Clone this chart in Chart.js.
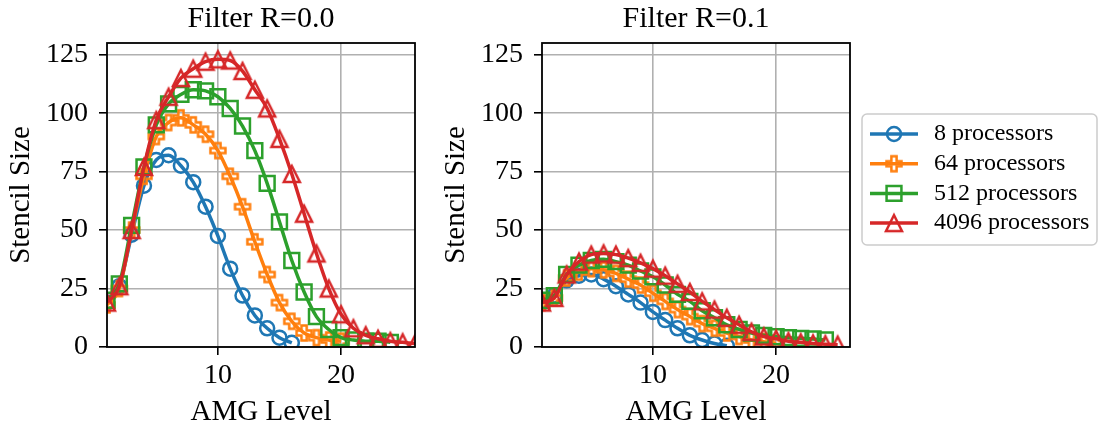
<!DOCTYPE html>
<html lang="en">
  <head>
    <meta charset="UTF-8" />
    <title>Stencil size per AMG level</title>
    <style>
      body {
        margin: 0;
        background: #fff;
      }
      .wrap {
        position: relative;
        width: 1098px;
        height: 425px;
      }
      canvas {
        position: absolute;
        top: 0;
      }
      #chartA {
        left: 0;
      }
      #chartB {
        left: 435px;
      }
    </style>
  </head>
  <body>
    <div class="wrap">
      <canvas id="chartA" width="480" height="425"></canvas>
      <canvas id="chartB" width="663" height="425"></canvas>
    </div>
    <script src="https://cdn.jsdelivr.net/npm/chart.js"></script>
    <script>
      // AMG levels (x) and tick labels
      const levels = [1, 2, 3, 4, 5, 6, 7, 8, 9, 10, 11, 12, 13, 14, 15, 16, 17, 18, 19, 20, 21, 22, 23, 24, 25, 26];
      const xTicks = [10, 20];
      const yTicks = [0, 25, 50, 75, 100, 125];
      const seriesNames = ["8 processors", "64 processors", "512 processors", "4096 processors"];

      // Filter R=0.0
      const r0_p8 = [19, 26, 48, 69, 80, 82, 77.5, 70.5, 60, 47.5, 33.5, 22, 13.5, 8, 4, 1.8];
      const r0_p64 = [18, 25, 50, 73, 90, 96, 98, 95, 91, 84, 73, 60, 45, 31, 19, 11, 6, 4, 3, 2.5];
      const r0_p512 = [20, 27, 52, 77, 95, 104, 108, 110, 109.5, 107, 102, 94.5, 84, 70, 53.5, 37, 23.5, 13, 7.5, 4, 3, 2.5, 2.5, 2];
      const r0_p4096 = [19, 26, 50, 77, 97, 107, 115, 119, 122, 123, 122.5, 118, 110, 102, 89, 74, 57, 40, 25, 14, 8, 5, 3.5, 2.5, 2, 1.5];

      // Filter R=0.1
      const r1_p8 = [19, 22, 28.5, 30.5, 31, 29, 26, 22.5, 19, 15, 11.5, 8, 5, 3, 1.5, 0.5];
      const r1_p64 = [19, 21, 29.5, 32, 33.5, 33, 31.5, 29, 26.5, 23, 19.5, 16, 13, 10, 8, 6, 4.5, 3, 2.3, 1.5];
      const r1_p512 = [20, 22, 31, 35, 37, 37.5, 36.5, 35, 32.5, 30, 26.5, 22.5, 19.5, 15.5, 12.5, 9.5, 7.5, 6, 5, 4.4, 4, 3.7, 3.4, 3];
      const r1_p4096 = [19, 21, 31, 36.5, 39.5, 40, 39.5, 38, 36, 33.5, 30.5, 27, 23.5, 19.5, 16, 12.5, 9.5, 6.5, 4.5, 3.5, 2.5, 2, 1.5, 1.2, 1];

      const colors = ["#1f77b4", "#ff7f0e", "#2ca02c", "#d62728"];
      const serif = "'Liberation Serif', 'Times New Roman', serif";

      // hollow marker images (plus and triangle like matplotlib "P" and "^")
      function makeMarker(color, path) {
        const c = document.createElement("canvas");
        c.width = 24;
        c.height = 24;
        const g = c.getContext("2d");
        g.translate(12, 12);
        g.strokeStyle = color;
        g.lineWidth = 2.5;
        g.beginPath();
        path(g);
        g.closePath();
        g.stroke();
        return c;
      }
      const plusPath = (g) => {
        const a = 2.6, l = 7.5;
        const pts = [[-a, -l], [a, -l], [a, -a], [l, -a], [l, a], [a, a], [a, l], [-a, l], [-a, a], [-l, a], [-l, -a], [-a, -a]];
        g.moveTo(pts[0][0], pts[0][1]);
        pts.slice(1).forEach((p) => g.lineTo(p[0], p[1]));
      };
      const triPath = (g) => {
        const s = 8;
        g.moveTo(0, -s);
        g.lineTo(s, s);
        g.lineTo(-s, s);
      };

      const markers = ["circle", makeMarker(colors[1], plusPath), "rect", makeMarker(colors[3], triPath)];
      const radii = [7, 7.5, 10.5, 8];

      function buildDatasets(series) {
        return series.map((vals, i) => ({
          label: seriesNames[i],
          data: vals.map((v, k) => ({ x: levels[k], y: v })),
          borderColor: colors[i],
          backgroundColor: "rgba(0,0,0,0)",
          borderWidth: 3.5,
          pointStyle: markers[i],
          pointRadius: radii[i],
          pointBorderWidth: 2.5,
          pointBorderColor: colors[i],
          pointBackgroundColor: "rgba(0,0,0,0)",
          cubicInterpolationMode: "monotone",
          clip: 0,
          order: 3 - i,
        }));
      }

      const framePlugin = {
        id: "frame",
        afterDatasetsDraw(chart) {
          const { ctx, chartArea: a } = chart;
          ctx.save();
          ctx.strokeStyle = "#000";
          ctx.lineWidth = 1.8;
          ctx.strokeRect(a.left, a.top, a.right - a.left, a.bottom - a.top);
          ctx.restore();
        },
      };

      const legendPlugin = {
        id: "sideLegend",
        afterDraw(chart) {
          const { ctx } = chart;
          const bx = 427, by = 114, bw = 235, bh = 131, r = 5;
          ctx.save();
          ctx.beginPath();
          ctx.roundRect(bx, by, bw, bh, r);
          ctx.fillStyle = "rgba(255,255,255,0.8)";
          ctx.fill();
          ctx.strokeStyle = "#cccccc";
          ctx.lineWidth = 1.5;
          ctx.stroke();
          ctx.font = "24px " + serif;
          ctx.textBaseline = "middle";
          ctx.textAlign = "left";
          chart.data.datasets.forEach((ds, i) => {
            const cy = 134 + i * 29.7;
            ctx.strokeStyle = ds.borderColor;
            ctx.lineWidth = 3.5;
            ctx.beginPath();
            ctx.moveTo(435, cy);
            ctx.lineTo(483, cy);
            ctx.stroke();
            ctx.lineWidth = 2.5;
            ctx.fillStyle = "rgba(0,0,0,0)";
            Chart.helpers.drawPoint(ctx, { pointStyle: ds.pointStyle, radius: ds.pointRadius, borderWidth: 2.5, rotation: 0 }, 459, cy);
            ctx.fillStyle = "#000";
            ctx.fillText(ds.label, 499, cy);
          });
          ctx.restore();
        },
      };

      function makeChart(id, titleText, series, padRight, withLegend) {
        const tickFont = { family: serif, size: 28, lineHeight: 1 };
        const labelFont = { family: serif, size: 29, lineHeight: 0.9 };
        return new Chart(document.getElementById(id), {
          type: "line",
          data: { datasets: buildDatasets(series) },
          options: {
            responsive: false,
            animation: false,
            events: [],
            layout: { padding: { left: 0, right: padRight, top: 0, bottom: 0 } },
            plugins: {
              legend: { display: false },
              tooltip: { enabled: false },
              title: {
                display: true,
                text: titleText,
                color: "#000",
                fullSize: false,
                font: { family: serif, size: 30, weight: "normal", lineHeight: 1 },
                padding: { top: 4, bottom: 9 },
              },
            },
            scales: {
              x: {
                type: "linear",
                min: 1,
                max: 26,
                afterBuildTicks: (s) => {
                  s.ticks = xTicks.map((v) => ({ value: v }));
                },
                afterFit: (s) => {
                  s.height = 78;
                },
                grid: { color: "#b0b0b0", lineWidth: 1.6, tickColor: "#000", tickLength: 8, tickWidth: 1.6 },
                border: { display: false },
                ticks: { color: "#000", font: tickFont, padding: 7, maxRotation: 0 },
                title: { display: true, text: "AMG Level", color: "#000", font: labelFont, padding: { top: 0, bottom: 0 } },
              },
              y: {
                type: "linear",
                min: 0,
                max: 130,
                afterBuildTicks: (s) => {
                  s.ticks = yTicks.map((v) => ({ value: v }));
                },
                afterFit: (s) => {
                  s.width = 107;
                },
                grid: { color: "#b0b0b0", lineWidth: 1.6, tickColor: "#000", tickLength: 8, tickWidth: 1.6 },
                border: { display: false },
                ticks: { color: "#000", font: tickFont, padding: 11 },
                title: { display: true, text: "Stencil Size", color: "#000", font: labelFont, padding: { top: 8, bottom: 0 } },
              },
            },
          },
          plugins: withLegend ? [framePlugin, legendPlugin] : [framePlugin],
        });
      }

      makeChart("chartA", "Filter R=0.0", [r0_p8, r0_p64, r0_p512, r0_p4096], 65, false);
      makeChart("chartB", "Filter R=0.1", [r1_p8, r1_p64, r1_p512, r1_p4096], 248, true);
    </script>
  </body>
</html>
